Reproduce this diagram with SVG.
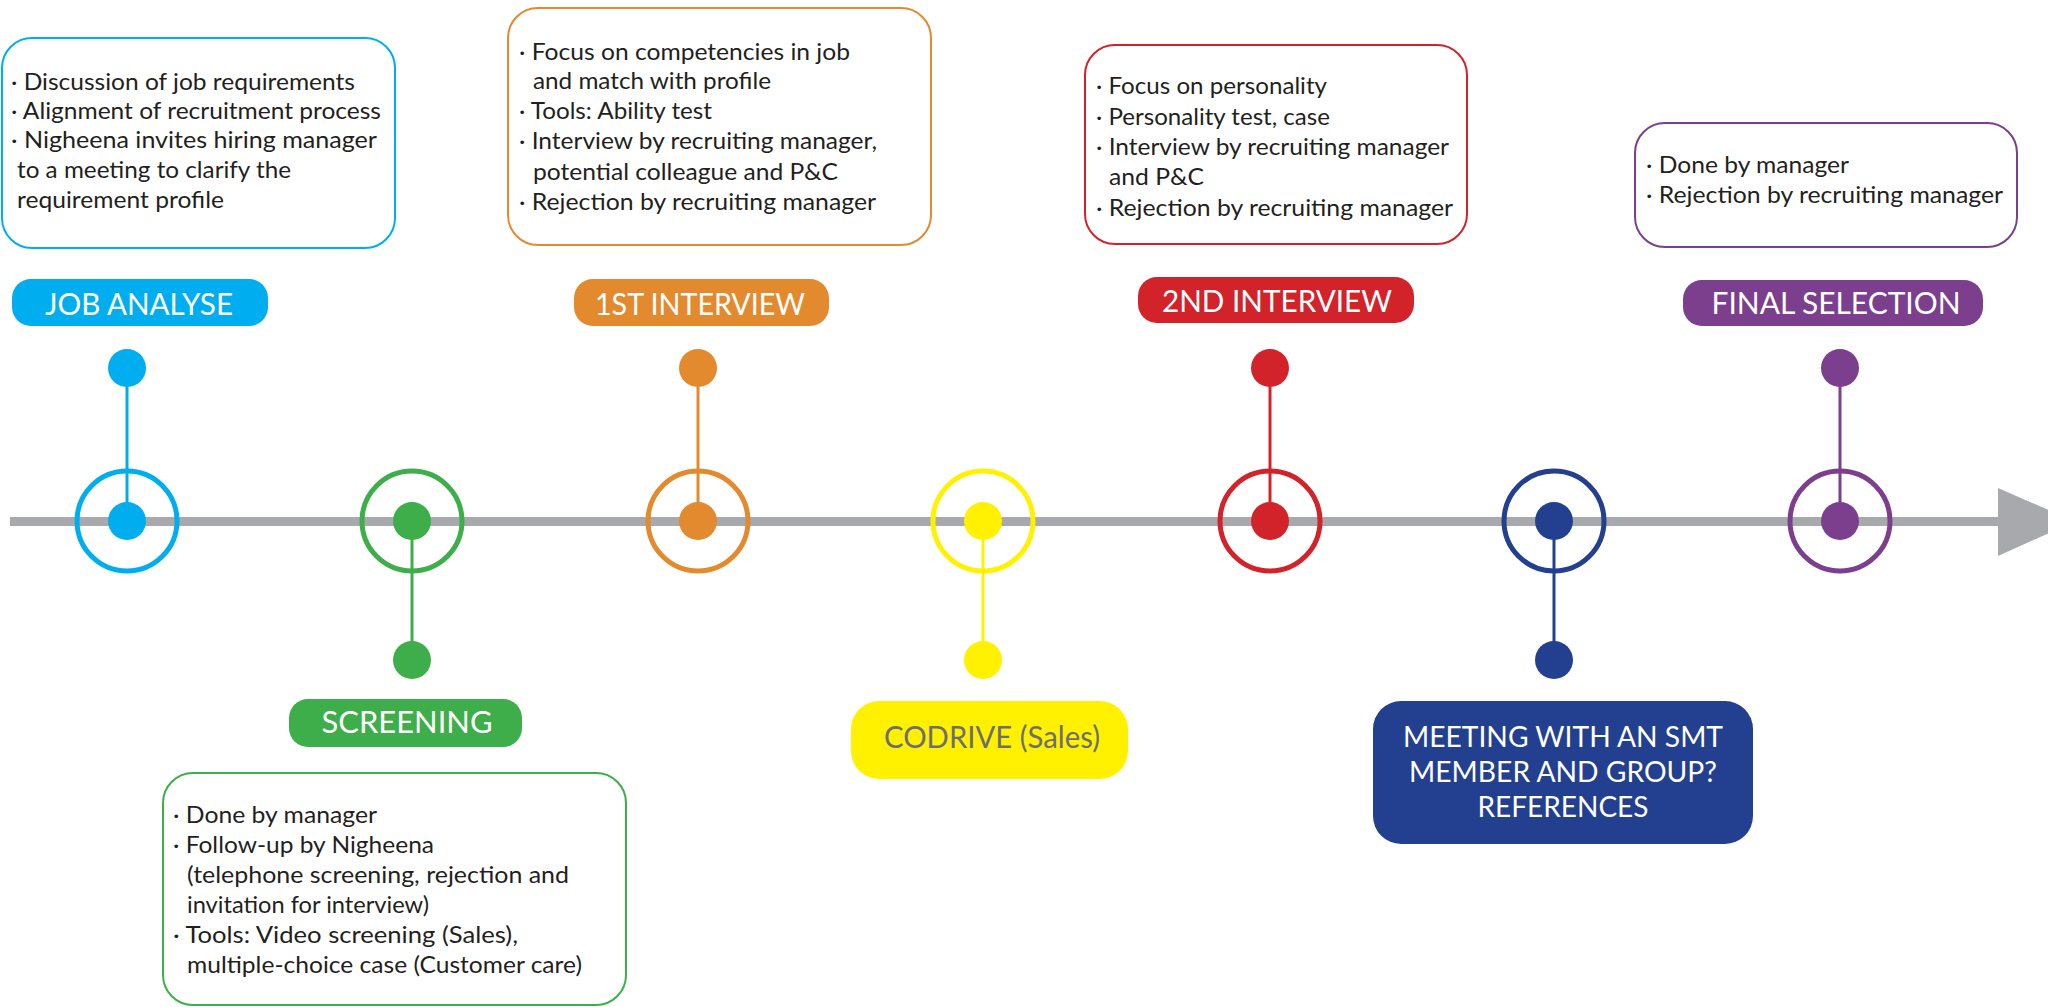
<svg xmlns="http://www.w3.org/2000/svg" width="2048" height="1007" viewBox="0 0 2048 1007">
<style>
text{font-family:Lato,"Liberation Sans",sans-serif}
.body{font-size:23px;fill:#231f20}
.pill{font-size:31px;fill:#fff;text-anchor:middle}
.box{fill:#fff;stroke-width:2}
.ring{fill:none;stroke-width:5}
.stem{stroke-width:3;fill:none}
</style>
<g id="timeline">
<rect x="10" y="517" width="1995" height="9" fill="#a7a9ac"/>
<polygon points="1998,488 2075,521.5 1998,556" fill="#a7a9ac"/>
</g>
<g id="connectors">
<line class="stem" x1="127" y1="368" x2="127" y2="521" stroke="#00aeef"/>
<line class="stem" x1="412" y1="521" x2="412" y2="660" stroke="#3dae49"/>
<line class="stem" x1="698" y1="368" x2="698" y2="521" stroke="#e38a2e"/>
<line class="stem" x1="983" y1="521" x2="983" y2="660" stroke="#fff100"/>
<line class="stem" x1="1270" y1="368" x2="1270" y2="521" stroke="#d2232a"/>
<line class="stem" x1="1554" y1="521" x2="1554" y2="660" stroke="#22408f"/>
<line class="stem" x1="1840" y1="368" x2="1840" y2="521" stroke="#7b3f8e"/>
</g>
<g id="job-analyse">
<rect class="box" x="2" y="38" width="393" height="210" rx="30" stroke="#00aeef"/>
<text class="body"><tspan x="11" y="90" textLength="344" lengthAdjust="spacingAndGlyphs">· Discussion of job requirements</tspan><tspan x="11" y="119" textLength="370" lengthAdjust="spacingAndGlyphs">· Alignment of recruitment process</tspan><tspan x="11" y="148" textLength="366" lengthAdjust="spacingAndGlyphs">· Nigheena invites hiring manager</tspan><tspan x="17" y="178" textLength="274" lengthAdjust="spacingAndGlyphs">to a meeting to clarify the</tspan><tspan x="17" y="208" textLength="207" lengthAdjust="spacingAndGlyphs">requirement profile</tspan></text>
<rect x="12" y="279" width="256" height="47" rx="19" fill="#00aeef"/>
<text class="pill" x="139" y="315" textLength="188" lengthAdjust="spacingAndGlyphs">JOB ANALYSE</text>
<circle class="ring" cx="127" cy="521" r="50" stroke="#00aeef"/>
<circle cx="127" cy="521" r="19" fill="#00aeef"/>
<circle cx="127" cy="368" r="19" fill="#00aeef"/>
</g>
<g id="screening">
<circle class="ring" cx="412" cy="521" r="50" stroke="#3dae49"/>
<circle cx="412" cy="521" r="19" fill="#3dae49"/>
<circle cx="412" cy="660" r="19" fill="#3dae49"/>
<rect x="289" y="699" width="233" height="48" rx="19" fill="#3dae49"/>
<text class="pill" x="407" y="733" textLength="171" lengthAdjust="spacingAndGlyphs">SCREENING</text>
<rect class="box" x="163" y="773" width="463" height="232" rx="30" stroke="#3dae49"/>
<text class="body"><tspan x="173" y="823" textLength="204" lengthAdjust="spacingAndGlyphs">· Done by manager</tspan><tspan x="173" y="853" textLength="261" lengthAdjust="spacingAndGlyphs">· Follow-up by Nigheena</tspan><tspan x="187" y="883" textLength="382" lengthAdjust="spacingAndGlyphs">(telephone screening, rejection and</tspan><tspan x="187" y="913" textLength="242" lengthAdjust="spacingAndGlyphs">invitation for interview)</tspan><tspan x="173" y="943" textLength="345" lengthAdjust="spacingAndGlyphs">· Tools: Video screening (Sales),</tspan><tspan x="187" y="973" textLength="395" lengthAdjust="spacingAndGlyphs">multiple-choice case (Customer care)</tspan></text>
</g>
<g id="first-interview">
<rect class="box" x="508" y="8" width="423" height="237" rx="30" stroke="#e38a2e"/>
<text class="body"><tspan x="519" y="60" textLength="331" lengthAdjust="spacingAndGlyphs">· Focus on competencies in job</tspan><tspan x="533" y="89" textLength="238" lengthAdjust="spacingAndGlyphs">and match with profile</tspan><tspan x="519" y="119" textLength="193" lengthAdjust="spacingAndGlyphs">· Tools: Ability test</tspan><tspan x="519" y="149" textLength="358" lengthAdjust="spacingAndGlyphs">· Interview by recruiting manager,</tspan><tspan x="533" y="180" textLength="305" lengthAdjust="spacingAndGlyphs">potential colleague and P&amp;C</tspan><tspan x="519" y="210" textLength="357" lengthAdjust="spacingAndGlyphs">· Rejection by recruiting manager</tspan></text>
<rect x="574" y="279" width="255" height="47" rx="19" fill="#e38a2e"/>
<text class="pill" x="700" y="315" textLength="210" lengthAdjust="spacingAndGlyphs">1ST INTERVIEW</text>
<circle class="ring" cx="698" cy="521" r="50" stroke="#e38a2e"/>
<circle cx="698" cy="521" r="19" fill="#e38a2e"/>
<circle cx="698" cy="368" r="19" fill="#e38a2e"/>
</g>
<g id="codrive">
<circle class="ring" cx="983" cy="521" r="50" stroke="#fff100"/>
<circle cx="983" cy="521" r="19" fill="#fff100"/>
<circle cx="983" cy="660" r="19" fill="#fff100"/>
<rect x="851" y="701" width="277" height="78" rx="28" fill="#fff100"/>
<text class="pill" x="992" y="748" style="fill:#6d6e71" textLength="216" lengthAdjust="spacingAndGlyphs">CODRIVE (Sales)</text>
</g>
<g id="second-interview">
<rect class="box" x="1085" y="45" width="382" height="199" rx="30" stroke="#d2232a"/>
<text class="body"><tspan x="1096" y="94" textLength="231" lengthAdjust="spacingAndGlyphs">· Focus on personality</tspan><tspan x="1096" y="125" textLength="234" lengthAdjust="spacingAndGlyphs">· Personality test, case</tspan><tspan x="1096" y="155" textLength="353" lengthAdjust="spacingAndGlyphs">· Interview by recruiting manager</tspan><tspan x="1109" y="185" textLength="95" lengthAdjust="spacingAndGlyphs">and P&amp;C</tspan><tspan x="1096" y="216" textLength="357" lengthAdjust="spacingAndGlyphs">· Rejection by recruiting manager</tspan></text>
<rect x="1138" y="277" width="276" height="46" rx="19" fill="#d2232a"/>
<text class="pill" x="1277" y="312" textLength="230" lengthAdjust="spacingAndGlyphs">2ND INTERVIEW</text>
<circle class="ring" cx="1270" cy="521" r="50" stroke="#d2232a"/>
<circle cx="1270" cy="521" r="19" fill="#d2232a"/>
<circle cx="1270" cy="368" r="19" fill="#d2232a"/>
</g>
<g id="smt-meeting">
<circle class="ring" cx="1554" cy="521" r="50" stroke="#22408f"/>
<circle cx="1554" cy="521" r="19" fill="#22408f"/>
<circle cx="1554" cy="660" r="19" fill="#22408f"/>
<rect x="1373" y="701" width="380" height="143" rx="28" fill="#22408f"/>
<text class="pill" style="font-size:28px"><tspan x="1563" y="747" textLength="320" lengthAdjust="spacingAndGlyphs">MEETING WITH AN SMT</tspan><tspan x="1563" y="782" textLength="308" lengthAdjust="spacingAndGlyphs">MEMBER AND GROUP?</tspan><tspan x="1563" y="817" textLength="171" lengthAdjust="spacingAndGlyphs">REFERENCES</tspan></text>
</g>
<g id="final-selection">
<rect class="box" x="1635" y="123" width="382" height="124" rx="30" stroke="#7b3f8e"/>
<text class="body"><tspan x="1646" y="173" textLength="203" lengthAdjust="spacingAndGlyphs">· Done by manager</tspan><tspan x="1646" y="203" textLength="357" lengthAdjust="spacingAndGlyphs">· Rejection by recruiting manager</tspan></text>
<rect x="1683" y="280" width="300" height="46" rx="19" fill="#7b3f8e"/>
<text class="pill" x="1836" y="314" textLength="249" lengthAdjust="spacingAndGlyphs">FINAL SELECTION</text>
<circle class="ring" cx="1840" cy="521" r="50" stroke="#7b3f8e"/>
<circle cx="1840" cy="521" r="19" fill="#7b3f8e"/>
<circle cx="1840" cy="368" r="19" fill="#7b3f8e"/>
</g>
</svg>
